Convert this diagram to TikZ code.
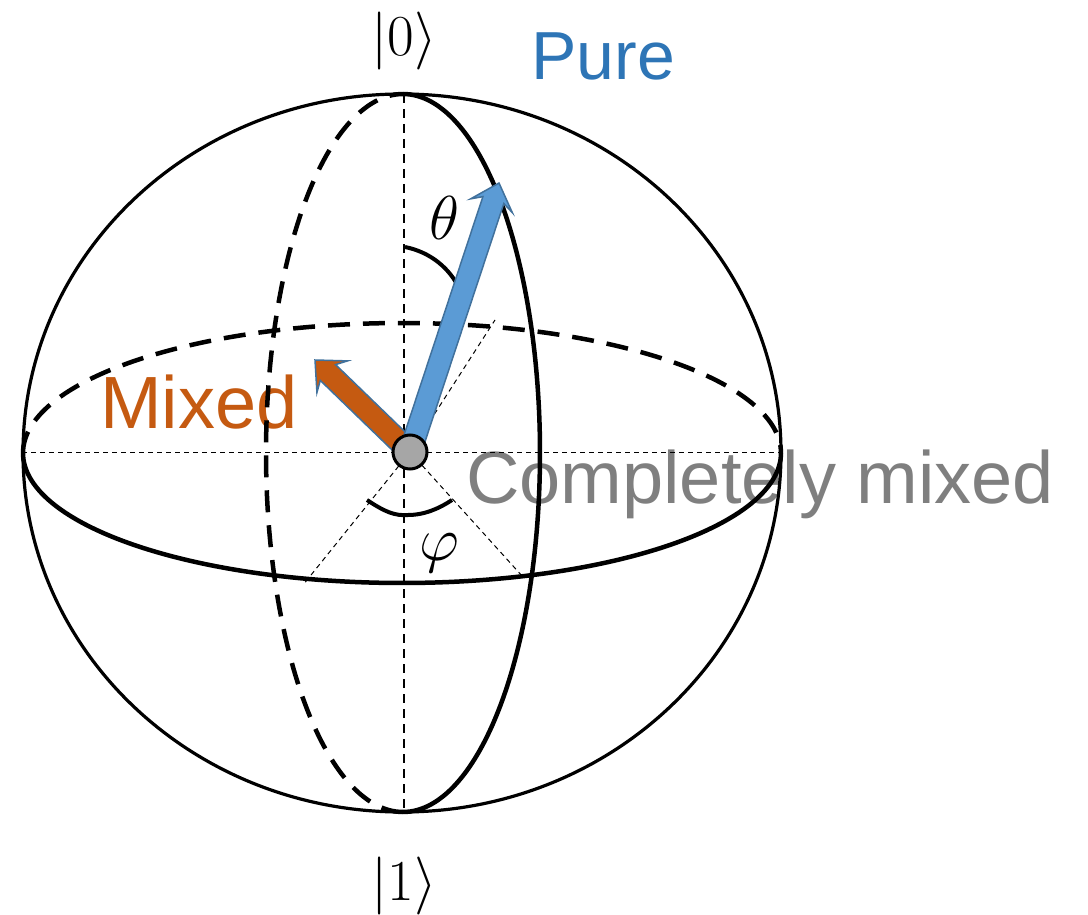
\RequirePackage{fix-cm}
\documentclass[tikz,border=0pt]{standalone}
\usepackage{fontspec}
\newfontfamily\lsans{Liberation Sans}
\usetikzlibrary{calc}
\definecolor{pureblue}{HTML}{2E75B6}
\definecolor{arrowblue}{HTML}{5B9BD5}
\definecolor{edgeblue}{HTML}{41719C}
\definecolor{mixorange}{HTML}{C55A11}
\definecolor{dotgray}{HTML}{A6A6A6}
\definecolor{textgray}{HTML}{7F7F7F}
\tikzset{
  lbl/.style={inner sep=0pt, font=\lsans\fontsize{74}{80}\selectfont},
  ket/.style={inner sep=0pt, font=\fontsize{58}{64}\selectfont},
  ang/.style={inner sep=0pt, font=\fontsize{62}{70}\selectfont},
  thinaxis/.style={line width=1.5pt, dash pattern=on 9pt off 6pt},
  thinray/.style={line width=1pt, dash pattern=on 5pt off 4pt},
  backline/.style={line width=4.5pt, dash pattern=on 22pt off 13pt},
  frontline/.style={line width=4.5pt},
  outline/.style={line width=3.2pt},
  anglearc/.style={line width=4pt},
  fatarrow/.style={line width=1.5pt, draw=edgeblue, line join=miter}
}
\newcommand{\fatarrow}[3]{% style, tail, tip
  \path ($(#3)!18pt!(#2)$) coordinate (fa-s) ($(#3)!24pt!(#2)$) coordinate (fa-b);
  \filldraw[fatarrow,#1] ($(#2)!11pt!90:(#3)$) -- ($(fa-s)!11pt!90:(#3)$)
    -- ($(fa-b)!22pt!90:(#3)$) -- (#3) -- ($(fa-b)!22pt!-90:(#3)$)
    -- ($(fa-s)!11pt!-90:(#3)$) -- ($(#2)!11pt!-90:(#3)$) -- cycle;
}
\begin{document}
\begin{tikzpicture}[x=1pt,y=-1pt]
\useasboundingbox (0,0) rectangle (1088,915);
% labels (beneath the lines)
\node[lbl, text=textgray, anchor=base west] (cm) at (466,503) {Completely mixed};
\node[lbl, text=mixorange, anchor=base west] (mx) at (100,428) {Mixed};
\node[lbl, text=pureblue, anchor=base west, font=\lsans\fontsize{68}{74}\selectfont] (pu) at (531,80) {Pure};
\node[ket, anchor=base] (k0) at (404,56) {$|0\rangle$};
\node[ket, anchor=base] (k1) at (404,900) {$|1\rangle$};
\node[ang, anchor=base] (th) at (444,240) {$\theta$};
\node[ang, anchor=base] (ph) at (439,560) {$\varphi$};
% coordinates
\coordinate (O) at (410,452);
\coordinate (N) at (404,94);
\coordinate (S) at (404,812);
\coordinate (W) at (22,452);
\coordinate (E) at (780,452);
\coordinate (r1) at (303,585);
\coordinate (r2) at (523,577);
\coordinate (r3) at (495,320);
\coordinate (tipP) at (499,183);
\coordinate (tipM) at (315,360);
% thin axes
\draw[thinaxis] (N) -- (S);
\draw[thinray] (W) -- (E);
\draw[thinray] (O) -- (r1);
\draw[thinray] (O) -- (r2);
\draw[thinray] (O) -- (r3);
% sphere outline
\draw[outline] (402,453) ellipse [x radius=379, y radius=359];
% equator
\draw[frontline] plot[domain=0:180, samples=120, smooth] ({402+379*cos(\x)}, {453+130*sin(\x)});
\draw[backline] plot[domain=180:360, samples=120, smooth] ({402+379*cos(\x)}, {453+130*sin(\x)});
% meridian
\draw[frontline] plot[domain=-90:90, samples=120, smooth] ({403+137*cos(\x)}, {453+359*sin(\x)});
\draw[backline] plot[domain=90:270, samples=120, smooth] ({403+137*cos(\x)}, {453+359*sin(\x)});
% angle arcs
\draw[anglearc] (405,247) .. controls (430,252) and (450,268) .. (460,290);
\draw[anglearc] (367,500) .. controls (385,512) and (395,516) .. (408,515) .. controls (425,515) and (440,508) .. (452,500);
% arrows
\fatarrow{fill=mixorange}{O}{tipM}
\fatarrow{fill=arrowblue}{O}{tipP}
% centre dot
\filldraw[fill=dotgray, draw=black, line width=3pt] (O) circle [radius=17pt];
\end{tikzpicture}
\end{document}
